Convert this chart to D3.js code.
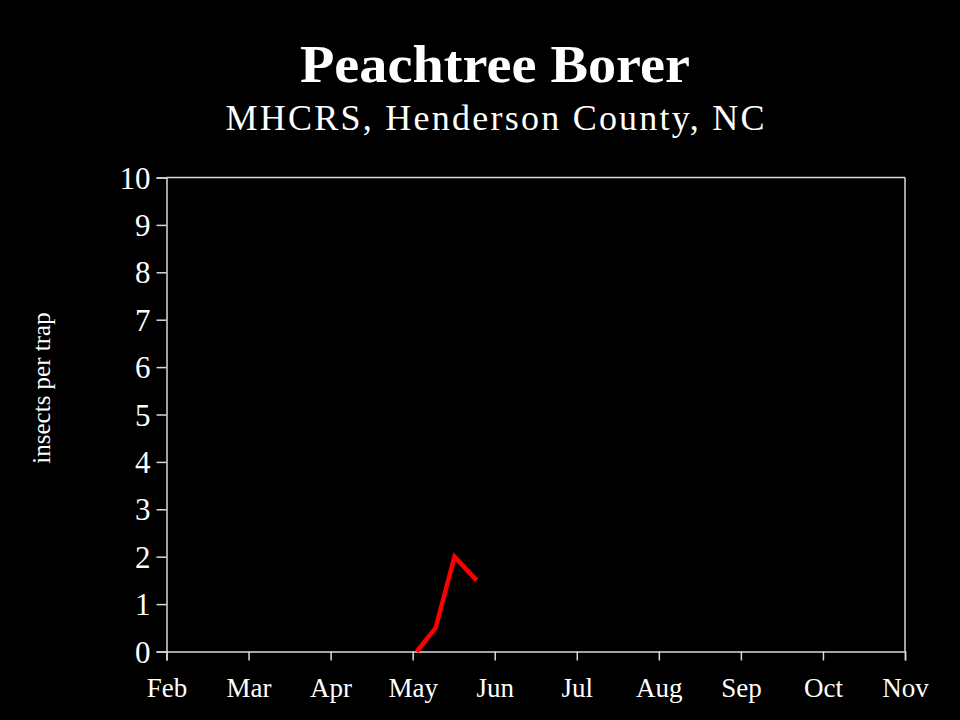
<!DOCTYPE html>
<html><head><meta charset="utf-8">
<script src="https://cdn.jsdelivr.net/npm/d3@7/dist/d3.min.js"></script>
<style>html,body{margin:0;padding:0;background:#000;}svg{display:block;}</style>
</head><body>
<script>
const months = ["Feb","Mar","Apr","May","Jun","Jul","Aug","Sep","Oct","Nov"];
const yTicks = [0,1,2,3,4,5,6,7,8,9,10];
// sample dates as fractional month index (0 = Feb 1)
const sampleMonth = [3.05, 3.28, 3.51, 3.78];
const insectsPerTrap = [0, 0.5, 2, 1.5];

const W = 960, H = 720;
const m = {left:166.5, right:905, top:177.5, bottom:651.5};
const font = "'Liberation Serif','Times New Roman',serif";
const svg = d3.select("body").append("svg").attr("width",W).attr("height",H)
  .style("background","#000");

const x = d3.scaleLinear().domain([0, months.length-1]).range([m.left, m.right]);
const y = d3.scaleLinear().domain([0,10]).range([m.bottom, m.top]);
const axisColor = "#d9d9d9";

// title
svg.append("text").attr("x",495).attr("y",82).attr("text-anchor","middle")
  .attr("fill","#fff").attr("font-family",font).attr("font-weight","bold")
  .attr("font-size",52).attr("textLength",390).attr("lengthAdjust","spacingAndGlyphs")
  .text("Peachtree Borer");
svg.append("text").attr("x",495).attr("y",130).attr("text-anchor","middle")
  .attr("fill","#fff").attr("font-family",font)
  .attr("font-size",36).attr("textLength",539).attr("lengthAdjust","spacing")
  .text("MHCRS, Henderson County, NC");

// frame top & right
svg.append("line").attr("x1",m.left).attr("x2",m.right).attr("y1",y(10)).attr("y2",y(10))
  .attr("stroke",axisColor).attr("stroke-width",1.5);
svg.append("line").attr("x1",m.right).attr("x2",m.right).attr("y1",y(10)).attr("y2",y(0))
  .attr("stroke",axisColor).attr("stroke-width",1.5);

// y axis
const gy = svg.append("g").attr("transform",`translate(${m.left},0)`)
  .call(d3.axisLeft(y).tickValues(yTicks).tickSize(10).tickPadding(6).tickFormat(d3.format("d")));
gy.select(".domain").attr("stroke",axisColor).attr("stroke-width",1.5);
gy.selectAll(".tick line").attr("stroke",axisColor).attr("stroke-width",1.5);
gy.selectAll("text").attr("fill","#fff").attr("font-family",font).attr("font-size",31)
  .attr("dy","0.34em");

// x axis
const gx = svg.append("g").attr("transform",`translate(0,${m.bottom})`)
  .call(d3.axisBottom(x).tickValues(d3.range(months.length)).tickSize(9).tickPadding(17)
    .tickFormat(i=>months[i]));
gx.select(".domain").attr("stroke",axisColor).attr("stroke-width",1.5);
gx.selectAll(".tick line").attr("stroke",axisColor).attr("stroke-width",1.5);
gx.selectAll("text").attr("fill","#fff").attr("font-family",font).attr("font-size",27)
  .attr("dy","0.71em");

// y label
svg.append("text").attr("transform","translate(50,388) rotate(-90)")
  .attr("text-anchor","middle").attr("fill","#fff").attr("font-family",font)
  .attr("font-size",25).text("insects per trap");

// line
const data = sampleMonth.map((mm,i)=>({x:mm, v:insectsPerTrap[i]}));
svg.append("path").datum(data)
  .attr("d", d3.line().x(d=>x(d.x)).y(d=>y(d.v)))
  .attr("fill","none").attr("stroke","#ff0000").attr("stroke-width",4.5)
  .attr("stroke-linejoin","miter");
</script>
</body></html>
